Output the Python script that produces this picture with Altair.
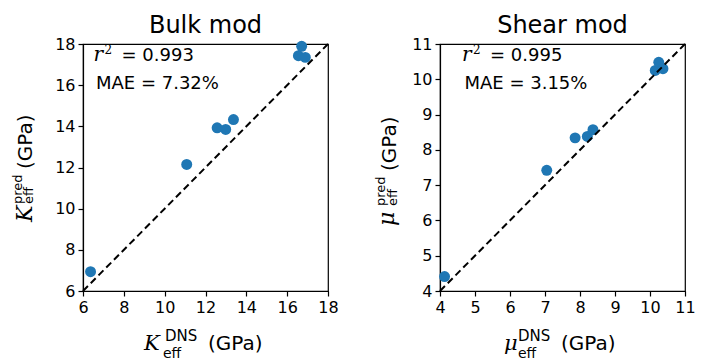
import altair as alt
import pandas as pd

# ---- data ----
bulk_dns = [6.37, 11.08, 12.57, 12.99, 13.37, 16.55, 16.71, 16.89]
bulk_pred = [6.94, 12.15, 13.93, 13.85, 14.33, 17.43, 17.89, 17.35]
shear_dns = [4.13, 7.05, 7.86, 8.21, 8.37, 10.15, 10.25, 10.37]
shear_pred = [4.41, 7.42, 8.34, 8.38, 8.57, 10.25, 10.48, 10.30]
bulk_ticks = [6, 8, 10, 12, 14, 16, 18]
shear_ticks = [4, 5, 6, 7, 8, 9, 10, 11]
panel_titles = ["Bulk mod", "Shear mod"]
r2_values = ["0.993", "0.995"]
mae_values = ["7.32%", "3.15%"]

W, H = 245, 247
SANS = "DejaVu Sans"
SERIF = "DejaVu Serif"


def txt(text, x, y, size, angle=0, font=SANS, style="normal", align="left", baseline="alphabetic"):
    return alt.Chart(pd.DataFrame({"t": [text]})).mark_text(
        text=text, font=font, fontSize=size, fontStyle=style, angle=angle,
        align=align, baseline=baseline, color="black"
    ).encode(x=alt.value(x), y=alt.value(y))


def panel(dns, pred, lo, hi, ticks, title, r2, mae, sym, lay):
    df = pd.DataFrame({"dns": dns, "pred": pred})
    xs = alt.Scale(domain=[lo, hi], nice=False, zero=False)
    ys = alt.Scale(domain=[lo, hi], nice=False, zero=False)
    xax = alt.Axis(values=ticks, title=None, labelFlush=False, labelOverlap=False, format="d")
    yax = alt.Axis(values=ticks, title=None, labelOverlap=False, format="d")
    pts = alt.Chart(df).mark_circle(size=120, color="#1f77b4", opacity=1).encode(
        x=alt.X("dns:Q", scale=xs, axis=xax),
        y=alt.Y("pred:Q", scale=ys, axis=yax),
    )
    diag = alt.Chart(pd.DataFrame({"dns": [lo, hi], "pred": [lo, hi]})).mark_line(
        color="black", strokeDash=[7, 4], strokeWidth=2
    ).encode(x=alt.X("dns:Q", scale=xs, axis=xax), y=alt.Y("pred:Q", scale=ys, axis=yax))

    ax = lay["ann_x"]
    layers = [
        pts, diag,
        # panel title
        txt(title, W / 2, -11, 24, align="center"),
        # annotations inside
        txt("r", ax, 17.3, 20, font=SERIF, style="italic"),
        txt("2", ax + 11, 9.5, 12, font=SERIF),
        txt("= " + r2, ax + 28, 17.3, 18),
        txt("MAE = " + mae, ax + 2.5, 45, 18),
        # x label
        txt(sym, lay["xs"], 306, 21, font=SERIF, style="italic"),
        txt("DNS", lay["xsup"], 297, 15),
        txt("eff", lay["xsub"], 314, 14),
        txt("(GPa)", lay["xg"], 306, 20),
        # y label (rotated)
        txt(sym, lay["ysx"], lay["ysy"], 22, angle=270, font=SERIF, style="italic"),
        txt("pred", lay["ypx"], lay["ypy"], 13, angle=270),
        txt("eff", lay["yex"], lay["yey"], 13, angle=270),
        txt("(GPa)", lay["ygx"], lay["ygy"], 20, angle=270),
    ]
    return alt.layer(*layers).properties(width=W, height=H)


left = panel(bulk_dns, bulk_pred, 6, 18, bulk_ticks, panel_titles[0], r2_values[0], mae_values[0], "K",
             dict(ann_x=10.5, xs=61, xsup=82, xsub=80, xg=125,
                  ysx=-51, ysy=178, ypx=-61, ypy=160, yex=-50, yey=160, ygx=-51, ygy=125))
right = panel(shear_dns, shear_pred, 4, 11, shear_ticks, panel_titles[1], r2_values[1], mae_values[1], "μ",
              dict(ann_x=22, xs=64, xsup=78, xsub=78, xg=121,
                   ysx=-46, ysy=182, ypx=-55, ypy=162, yex=-43, yey=162, ygx=-44, ygy=127))

chart = alt.hconcat(left, right, spacing=35).configure_view(
    stroke="black", strokeWidth=1.2
).configure_axis(
    domainColor="black", tickColor="black", labelColor="black", labelFont=SANS,
    labelFontSize=16, tickSize=5, domainWidth=1.2, tickWidth=1.2, grid=False, labelPadding=3,
).properties(background="white", padding={"left": 3, "top": 5, "right": 0, "bottom": 0})

chart.save("out.html", embed_options={"renderer": "svg", "actions": False})
